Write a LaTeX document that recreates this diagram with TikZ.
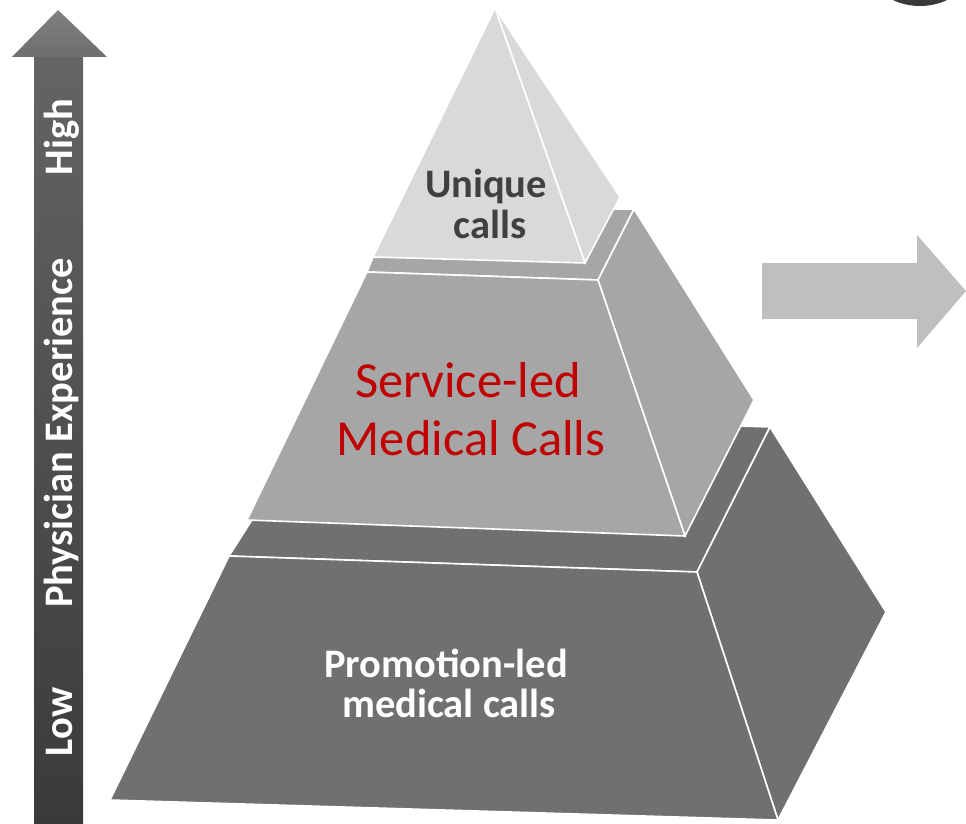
\documentclass[tikz,border=0pt]{standalone}
\usepackage{fontspec}
\setmainfont{Carlito}
\begin{document}
\begin{tikzpicture}[x=1pt,y=-1pt,
  face/.style={draw=white,line width=1.6pt,line join=miter},
  lt/.style={face,fill=pyrlight},
  md/.style={face,fill=pyrmid},
  dk/.style={face,fill=pyrdark},
  boldtxt/.style={font=\fontsize{40.5}{42}\selectfont\bfseries,inner sep=0pt},
  redtxt/.style={font=\fontsize{50.5}{57}\selectfont,inner sep=0pt,text=redtext},
  axistxt/.style={font=\fontsize{40.5}{42}\selectfont\bfseries,inner sep=0pt,text=white,rotate=90,anchor=base}]
\definecolor{pyrlight}{HTML}{D9D9D9}
\definecolor{pyrmid}{HTML}{A6A6A6}
\definecolor{pyrdark}{HTML}{707070}
\definecolor{redtext}{HTML}{C00000}
\definecolor{txtdark}{HTML}{404040}
\definecolor{arrowgray}{HTML}{BFBFBF}
\useasboundingbox (0,0) rectangle (966,824);
% top-right dark blob
\fill[fill={rgb,255:red,58;green,58;blue,58}] (920,-58) circle (64);
% left vertical arrow
\shade[top color={rgb,255:red,100;green,100;blue,100},bottom color={rgb,255:red,58;green,58;blue,58}] (34,56) rectangle (83,824);
\shade[top color={rgb,255:red,128;green,128;blue,128},bottom color={rgb,255:red,110;green,110;blue,110}] (58,10) -- (107,57) -- (12,57) -- cycle;
\node[axistxt] (high) at (72,137) {High};
\node[axistxt] (phys) at (72,433) {Physician Experience};
\node[axistxt] (low) at (72,722) {Low};
% bottom frustum
\path[dk] (229,556) -- (697,572) -- (770,427) -- (500,418) -- (290,460) -- cycle;
\path[dk] (697,572) -- (770,427) -- (886,612) -- (778,820) -- cycle;
\path[dk] (229,556) -- (697,572) -- (778,820) -- (110,800) -- cycle;
% middle frustum
\path[md] (367,272) -- (598,280) -- (634,209) -- (500,209) -- (373,257) -- cycle;
\path[md] (598,280) -- (634,209) -- (754,400) -- (685,536) -- cycle;
\path[md] (367,272) -- (598,280) -- (685,536) -- (247,520) -- cycle;
% top pyramid
\path[lt] (495,8) -- (620,197) -- (585,263) -- cycle;
\path[lt] (495,8) -- (585,263) -- (373,257) -- cycle;
% right arrow
\fill[arrowgray] (762,263) -- (917,263) -- (917,235) -- (966,291) -- (917,348) -- (917,319) -- (762,319) -- cycle;
% texts
\node[boldtxt,text=txtdark,anchor=base] (u1) at (486,197) {Unique};
\node[boldtxt,text=txtdark,anchor=base] (u2) at (490,238) {calls};
\node[redtxt,anchor=base] (s1) at (468,397) {Service-led};
\node[redtxt,anchor=base] (s2) at (471,455) {Medical Calls};
\node[boldtxt,text=white,anchor=base] (p1) at (446,677) {Promotion-led};
\node[boldtxt,text=white,anchor=base] (p2) at (449,717) {medical calls};
\end{tikzpicture}
\end{document}
